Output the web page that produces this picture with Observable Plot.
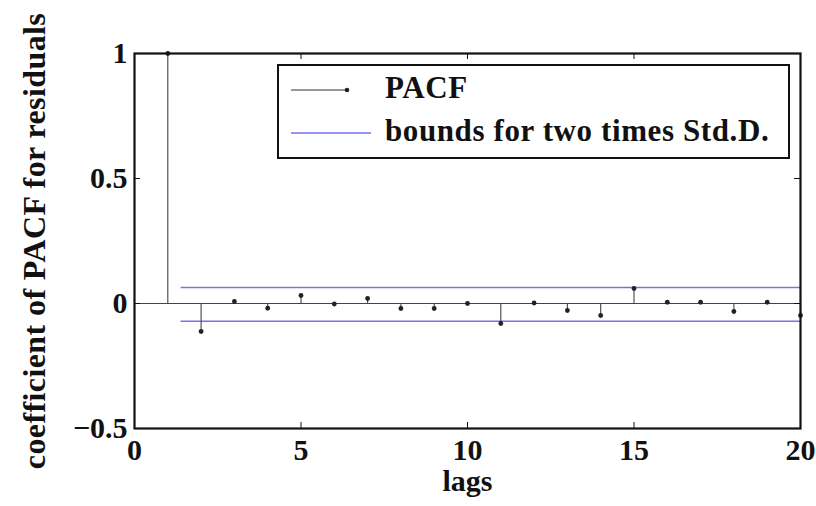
<!DOCTYPE html>
<html>
<head>
<meta charset="utf-8">
<script src="https://cdn.jsdelivr.net/npm/d3@7"></script>
<script src="https://cdn.jsdelivr.net/npm/@observablehq/plot@0.6"></script>
<style>
  html, body { margin: 0; padding: 0; background: #fff; }
  #wrap { position: relative; width: 816px; height: 506px; font-family: "Liberation Serif", "Times New Roman", Tinos, "DejaVu Serif", serif; }
  #legend { position: absolute; left: 277px; top: 64px; width: 513px; height: 95px; border: 2px solid #111; background: #fff; box-sizing: border-box; }
  .lrow { position: absolute; left: 0; height: 40px; }
  .lrow svg { position: absolute; left: 10px; top: 10px; }
  .lrow span { position: absolute; left: 106px; top: 0px; white-space: nowrap; font-weight: bold; font-size: 31px; letter-spacing: 0.6px; line-height: 36px; color: #111; }
</style>
</head>
<body>
<div id="wrap">
  <div id="chart"></div>
  <div id="legend">
    <div class="lrow" style="top:4px"><svg width="80" height="20"><line x1="2" y1="10" x2="58" y2="10" stroke="#333" stroke-width="1.2"/><circle cx="58" cy="10" r="2.3" fill="#222"/></svg><span>PACF</span></div>
    <div class="lrow" style="top:47px"><svg width="90" height="20"><line x1="2" y1="10" x2="82" y2="10" stroke="#7373ee" stroke-width="1.5"/></svg><span>bounds for two times Std.D.</span></div>
  </div>
</div>
<script>
const lags = [1,2,3,4,5,6,7,8,9,10,11,12,13,14,15,16,17,18,19,20];
const pacf = [1.0,-0.112,0.008,-0.019,0.032,-0.002,0.02,-0.02,-0.02,0.0,-0.08,0.002,-0.028,-0.048,0.06,0.005,0.005,-0.032,0.005,-0.048];
const boundUpper = 0.064;
const boundLower = -0.071;
const boundLagRange = [1.4, 20];
const xTicks = [0,5,10,15,20];
const yTicks = [-0.5,0,0.5,1];

const data = lags.map((l, i) => ({lag: l, value: pacf[i]}));
const bounds = [boundUpper, boundLower];

const W = 816, H = 506;
const mL = 134, mR = 16, mT = 53, mB = 78;
const pw = W - mL - mR, ph = H - mT - mB;
const tk = 6;
const serif = "'Liberation Serif', 'Times New Roman', Tinos, 'DejaVu Serif', serif";

const chart = Plot.plot({
  width: W,
  height: H,
  marginLeft: mL,
  marginRight: mR,
  marginTop: mT,
  marginBottom: mB,
  style: {fontFamily: serif, fontWeight: "bold", fontSize: "30px", color: "#111", background: "#fff"},
  x: {domain: [0, 20]},
  y: {domain: [-0.5, 1]},
  marks: [
    Plot.ruleY([0], {stroke: "#444", strokeWidth: 1.2}),
    Plot.ruleY(bounds, {x1: boundLagRange[0], x2: boundLagRange[1], stroke: "#7373ee", strokeWidth: 1.6}),
    Plot.ruleX(data, {x: "lag", y1: 0, y2: "value", stroke: "#444", strokeWidth: 1.1}),
    Plot.dot(data, {x: "lag", y: "value", r: 2.4, fill: "#222", stroke: null}),
    Plot.tickY(yTicks, {y: d => d, insetRight: pw - tk, stroke: "#111"}),
    Plot.tickY(yTicks, {y: d => d, insetLeft: pw - tk, stroke: "#111"}),
    Plot.tickX(xTicks, {x: d => d, insetTop: ph - tk, stroke: "#111"}),
    Plot.tickX(xTicks, {x: d => d, insetBottom: ph - tk, stroke: "#111"}),
    Plot.axisX(xTicks, {tickSize: 0, tickPadding: 10, fontFamily: serif, fontWeight: "bold", fontSize: 30, label: "lags", labelAnchor: "center", labelOffset: 62, labelArrow: "none"}),
    Plot.axisY(yTicks, {tickSize: 0, tickPadding: 7, fontFamily: serif, fontWeight: "bold", fontSize: 30, tickFormat: d => d === 0 ? "0" : d3.format("")(d).replace("-", "\u2212"), label: "coefficient of PACF for residuals", labelAnchor: "center", labelOffset: 112, labelArrow: "none"}),
    Plot.frame({stroke: "#111", strokeWidth: 2.2})
  ]
});
d3.select(chart).selectAll('[aria-label="y-axis label"] text').style("font-size", "32px").attr("letter-spacing", "0.4");
document.getElementById("chart").appendChild(chart);
</script>
</body>
</html>
